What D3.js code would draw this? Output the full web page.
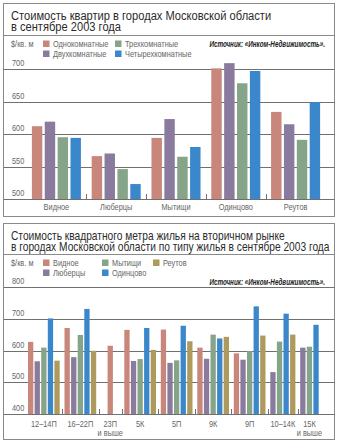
<!DOCTYPE html>
<html>
<head>
<meta charset="utf-8">
<script src="https://cdn.jsdelivr.net/npm/d3@7"></script>
<style>
  html, body { margin: 0; padding: 0; background: #fff; }
  svg { display: block; }
  text { font-family: "Liberation Sans", Arial, sans-serif; }
  .title { font-size: 13.5px; fill: #2b2b2b; }
  .small { font-size: 9px; fill: #666; }
  .src { font-size: 9px; font-weight: bold; font-style: italic; fill: #222; }
</style>
</head>
<body>
<svg id="chart" width="339" height="442"></svg>
<script>
// ── Data: chart 1 ───────────────────────────────────────────────
const cities = ['Видное', 'Люберцы', 'Мытищи', 'Одинцово', 'Реутов'];
const rooms  = ['Однокомнатные', 'Двухкомнатные', 'Трехкомнатные', 'Четырехкомнатные'];
const oneRoom   = [612, 566, 594, 701, 634];
const twoRoom   = [619, 570, 623, 709, 615];
const threeRoom = [595, 546, 565, 678, 591];
const fourRoom  = [594, 523, 580, 697, 649];
const ticks1 = [500, 550, 600, 650, 700];

// ── Data: chart 2 ───────────────────────────────────────────────
const houseTypes = ['12–14П', '16–22П', '23П|и выше', '5К', '5П', '9К', '9П', '10–14К', '15К|и выше'];
const towns = ['Видное', 'Люберцы', 'Мытищи', 'Одинцово', 'Реутов'];
const vidnoe    = [627, 671, 615, 665, 666, 609, 591, null, null];
const lyubertsy = [566, 579, null, 567, 561, 574, 571, 532, 609];
const mytishchi = [609, 649, null, 573, 569, 650, 598, 628, 612];
const odintsovo = [701, 731, null, 671, 678, 638, 739, 716, 681];
const reutov    = [568, 599, null, 602, 629, 643, 647, 650, null];
const ticks2 = [400, 500, 600, 700, 800];

const roomColors = ['#c8877a', '#8a7b9e', '#86a488', '#3b87cc'];
const townColors = ['#c8877a', '#8a7b9e', '#86a488', '#3b87cc', '#ad9a5c'];

const svg = d3.select('#chart');

// no narrow face installed, so squeeze the regular one horizontally
const SQUEEZE = { title: 0.824, small: 0.82, src: 0.7 };

function label(g, cls, x, y, str, anchor, sx) {
  return g.append('text')
    .attr('class', cls)
    .attr('transform', `translate(${x},${y}) scale(${sx || SQUEEZE[cls]},1)`)
    .attr('text-anchor', anchor || 'start')
    .text(str);
}

// ── Panel frame helper ──────────────────────────────────────────
function panel(y0, y1, sepY, lines, titleY, squeeze) {
  const g = svg.append('g');
  g.append('rect')
    .attr('x', 3.5).attr('y', y0 + 0.5)
    .attr('width', 331).attr('height', y1 - y0)
    .attr('fill', '#fff').attr('stroke', '#8a8a8a');
  g.append('line')
    .attr('x1', 3.5).attr('x2', 334.5)
    .attr('y1', sepY + 0.5).attr('y2', sepY + 0.5)
    .attr('stroke', '#8a8a8a');
  lines.forEach((l, i) => label(g, 'title', 11, titleY + i * 11.5, l, 'start', squeeze));
  return g;
}

function legend(g, items, colors, cols, rowY) {
  items.forEach((name, i) => {
    const c = cols[Math.floor(i / 2)];
    const y = rowY + (i % 2) * 10;
    g.append('rect').attr('x', c).attr('y', y - 6.5)
      .attr('width', 6.5).attr('height', 6.5).attr('fill', colors[i]);
    label(g, 'small', c + 10, y, name);
  });
}

function grid(g, y, ticks) {
  ticks.forEach(t => {
    g.append('line')
      .attr('x1', 3.5).attr('x2', 334.5)
      .attr('y1', Math.round(y(t)) + 0.5).attr('y2', Math.round(y(t)) + 0.5)
      .attr('stroke', '#707070');
    label(g, 'small', 12, y(t) - 3, t);
  });
}

// ── Chart 1 ─────────────────────────────────────────────────────
const p1 = panel(3, 216, 35, ['Стоимость квартир в городах Московской области', 'в сентябре 2003 года'], 19.5);
label(p1, 'small', 11, 47, '$/кв. м');
legend(p1, rooms, roomColors, [43, 115], 47);
label(p1, 'src', 325, 47, 'Источник: «Инком-Недвижимость».', 'end');

const y1 = d3.scaleLinear().domain([500, 700]).range([199, 69]);
grid(p1, y1, ticks1);

const x0 = d3.scaleBand().domain(cities).range([26.5, 325.5]).paddingInner(0.18).paddingOuter(0.09);
const x1 = d3.scaleBand().domain(rooms).range([0, x0.bandwidth()]).paddingInner(0.19);
const series1 = [oneRoom, twoRoom, threeRoom, fourRoom];

cities.forEach((c, ci) => {
  rooms.forEach((r, ri) => {
    const v = series1[ri][ci];
    p1.append('rect')
      .attr('x', x0(c) + x1(r)).attr('width', x1.bandwidth())
      .attr('y', y1(v)).attr('height', y1(500) - y1(v))
      .attr('fill', roomColors[ri]);
  });
  label(p1, 'small', x0(c) + x0.bandwidth() / 2, 210, c, 'middle');
  if (ci > 0) {
    const bx = Math.round(x0(c) - x0.step() * 0.09) + 0.5;
    p1.append('line').attr('x1', bx).attr('x2', bx)
      .attr('y1', y1(500) - 5).attr('y2', y1(500)).attr('stroke', '#707070');
  }
});

// ── Chart 2 ─────────────────────────────────────────────────────
const p2 = panel(223, 439, 254, ['Стоимость квадратного метра жилья на вторичном рынке', 'в городах Московской области по типу жилья в сентябре 2003 года'], 239.5, 0.755);
label(p2, 'small', 11, 266, '$/кв. м');
legend(p2, towns, townColors, [43, 102, 153], 266);
label(p2, 'src', 325, 285, 'Источник: «Инком-Недвижимость».', 'end');

const y2 = d3.scaleLinear().domain([400, 800]).range([414, 287]);
grid(p2, y2, ticks2);

// slot layout: each group takes max(bars, 3) slots, groups separated by a gap
const series2 = [vidnoe, lyubertsy, mytishchi, odintsovo, reutov];
const gapSlots = 0.53;
let cursor = 0;
const groups = houseTypes.map((name, gi) => {
  const bars = series2.map((s, si) => ({ si, v: s[gi] })).filter(d => d.v != null);
  const slots = Math.max(bars.length, 3);
  const start = cursor + (slots - bars.length) / 2;
  const grp = { name, start: cursor, slots, bars: bars.map((b, k) => ({ ...b, pos: start + k })) };
  cursor += slots + gapSlots;
  return grp;
});
const totalSlots = cursor - gapSlots;
const xs = d3.scaleLinear().domain([0, totalSlots]).range([28, 28 + totalSlots * 6.6]);
const barW = 5.3;

groups.forEach((grp, gi) => {
  grp.bars.forEach(b => {
    p2.append('rect')
      .attr('x', xs(b.pos)).attr('width', barW)
      .attr('y', y2(b.v)).attr('height', y2(400) - y2(b.v))
      .attr('fill', townColors[b.si]);
  });
  const cx = (xs(grp.start) + xs(grp.start + grp.slots) - 1.3) / 2;
  grp.name.split('|').forEach((line, li) => {
    label(p2, 'small', cx, 427 + li * 8.5, line, 'middle');
  });
  if (gi > 0) {
    const bx = Math.round(xs(grp.start - gapSlots / 2) - 0.65) + 0.5;
    p2.append('line').attr('x1', bx).attr('x2', bx)
      .attr('y1', y2(400) - 5).attr('y2', y2(400)).attr('stroke', '#707070');
  }
});
</script>
</body>
</html>
